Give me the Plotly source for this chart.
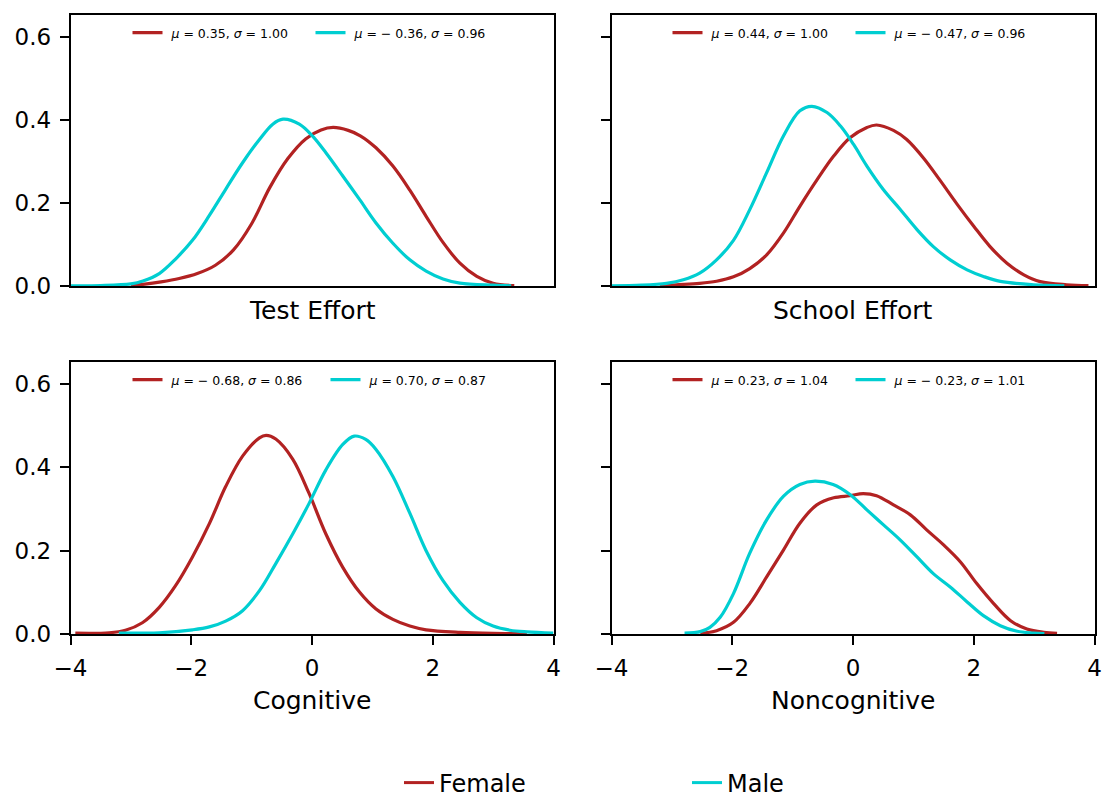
import plotly.graph_objects as go

RED = "#B22222"
CYAN = "#00CED1"
FONT = "DejaVu Sans"

panel_titles = ["Test Effort", "School Effort", "Cognitive", "Noncognitive"]
female_labels = ["\u00a0<i>μ</i> = 0.35, <i>σ</i> = 1.00", "\u00a0<i>μ</i> = 0.44, <i>σ</i> = 1.00",
                 "\u00a0<i>μ</i> = − 0.68, <i>σ</i> = 0.86", "\u00a0<i>μ</i> = 0.23, <i>σ</i> = 1.04"]
male_labels = ["\u00a0<i>μ</i> = − 0.36, <i>σ</i> = 0.96", "\u00a0<i>μ</i> = − 0.47, <i>σ</i> = 0.96",
               "\u00a0<i>μ</i> = 0.70, <i>σ</i> = 0.87", "\u00a0<i>μ</i> = − 0.23, <i>σ</i> = 1.01"]
x_ticks = [-4, -2, 0, 2, 4]
y_ticks = [0.0, 0.2, 0.4, 0.6]
y_tick_text = ["0.0", "0.2", "0.4", "0.6"]

# Test Effort
test_female_x = [-3.0, -2.8, -2.5, -2.2, -1.9, -1.6, -1.3, -1.0, -0.70, -0.40, -0.10, 0.15, 0.35,
                 0.60, 0.80, 1.06, 1.34, 1.62, 1.89, 2.17, 2.45, 2.73, 3.0, 3.35]
test_female_y = [0.001, 0.004, 0.010, 0.018, 0.030, 0.050, 0.087, 0.150, 0.237, 0.307, 0.355, 0.376, 0.382,
                 0.375, 0.362, 0.333, 0.289, 0.231, 0.168, 0.105, 0.055, 0.023, 0.0065, 0.001]
test_male_x = [-4.0, -3.5, -3.0, -2.8, -2.53, -2.26, -1.98, -1.70, -1.43, -1.15, -0.87, -0.65, -0.48, -0.21,
               0.01, 0.23, 0.51, 0.79, 1.06, 1.34, 1.62, 1.89, 2.17, 2.45, 3.0, 3.3]
test_male_y = [0.0005, 0.001, 0.005, 0.012, 0.030, 0.065, 0.110, 0.170, 0.233, 0.297, 0.353, 0.390, 0.402,
               0.390, 0.361, 0.321, 0.265, 0.208, 0.152, 0.103, 0.063, 0.036, 0.017, 0.007, 0.002, 0.0005]

# School Effort
school_female_x = [-3.2, -2.54, -2.26, -1.98, -1.71, -1.43, -1.15, -0.88, -0.60, -0.32, -0.05, 0.23, 0.39,
                   0.67, 0.89, 1.17, 1.44, 1.72, 2.00, 2.27, 2.55, 2.83, 3.10, 3.54, 3.9]
school_female_y = [0.001, 0.0065, 0.0115, 0.022, 0.042, 0.075, 0.128, 0.192, 0.255, 0.313, 0.357, 0.382, 0.388,
                   0.375, 0.353, 0.308, 0.255, 0.198, 0.144, 0.095, 0.055, 0.027, 0.0105, 0.003, 0.001]
school_male_x = [-4.0, -3.5, -3.09, -2.81, -2.54, -2.26, -1.98, -1.71, -1.43, -1.15, -0.88, -0.68, -0.43, -0.21,
                 0.01, 0.23, 0.505, 0.78, 1.06, 1.33, 1.61, 1.89, 2.16, 2.44, 2.99, 3.5]
school_male_y = [0.0005, 0.002, 0.0065, 0.015, 0.031, 0.063, 0.110, 0.184, 0.273, 0.362, 0.422, 0.433, 0.418, 0.386,
                 0.341, 0.289, 0.232, 0.185, 0.136, 0.095, 0.063, 0.039, 0.023, 0.011, 0.003, 0.0005]

# Cognitive
cog_female_x = [-3.92, -3.36, -3.09, -2.81, -2.53, -2.26, -1.98, -1.70, -1.43, -1.15, -0.87, -0.76, -0.60,
                -0.32, -0.05, 0.23, 0.51, 0.79, 1.06, 1.34, 1.62, 1.89, 2.45, 3.0, 3.56]
cog_female_y = [0.002, 0.003, 0.009, 0.027, 0.064, 0.116, 0.185, 0.265, 0.354, 0.427, 0.471, 0.477, 0.468,
                0.420, 0.338, 0.240, 0.160, 0.100, 0.060, 0.035, 0.019, 0.010, 0.004, 0.0016, 0.001]
cog_male_x = [-3.20, -2.53, -1.98, -1.70, -1.43, -1.15, -0.87, -0.60, -0.32, -0.05, 0.23, 0.51, 0.70, 0.89,
              1.06, 1.34, 1.62, 1.89, 2.17, 2.45, 2.73, 3.0, 3.28, 3.56, 4.0]
cog_male_y = [0.002, 0.003, 0.010, 0.017, 0.031, 0.056, 0.104, 0.169, 0.240, 0.313, 0.394, 0.455, 0.475, 0.467,
              0.443, 0.378, 0.290, 0.200, 0.128, 0.076, 0.039, 0.019, 0.009, 0.005, 0.002]

# Noncognitive
noncog_female_x = [-2.53, -2.26, -1.98, -1.71, -1.43, -1.15, -0.88, -0.60, -0.32, -0.05, 0.17, 0.39, 0.67,
                   0.95, 1.22, 1.50, 1.78, 2.05, 2.33, 2.61, 2.88, 3.16, 3.38]
noncog_female_y = [0.0016, 0.008, 0.028, 0.073, 0.137, 0.202, 0.266, 0.310, 0.327, 0.332, 0.337, 0.332, 0.310,
                   0.286, 0.250, 0.214, 0.173, 0.121, 0.073, 0.032, 0.012, 0.004, 0.0016]
noncog_male_x = [-2.79, -2.53, -2.37, -2.20, -1.98, -1.71, -1.43, -1.15, -0.88, -0.63, -0.33, -0.05, 0.23, 0.505,
                 0.78, 1.06, 1.33, 1.61, 1.89, 2.16, 2.44, 2.72, 2.99, 3.17]
noncog_male_y = [0.0024, 0.0056, 0.016, 0.040, 0.097, 0.194, 0.274, 0.331, 0.359, 0.367, 0.359, 0.335, 0.298, 0.262,
                 0.226, 0.185, 0.145, 0.113, 0.077, 0.044, 0.020, 0.0065, 0.0024, 0.001]

female_x = [test_female_x, school_female_x, cog_female_x, noncog_female_x]
female_y = [test_female_y, school_female_y, cog_female_y, noncog_female_y]
male_x = [test_male_x, school_male_x, cog_male_x, noncog_male_x]
male_y = [test_male_y, school_male_y, cog_male_y, noncog_male_y]

W, H = 1106, 798
# pixel geometry of the panels (left, right, top, bottom)
col_px = [(70.5, 553.5), (611.5, 1094.5)]
row_px = [(15, 286), (362, 634)]
legend_left_px = [127.5, 667.5]
legend_entry_px = [[138, 138], [153, 138]]

fig = go.Figure()
layout = dict(width=W, height=H, margin=dict(l=0, r=0, t=0, b=0, autoexpand=False),
              paper_bgcolor="white", plot_bgcolor="white",
              font=dict(family=FONT, color="black", size=22))
annotations = []
for i in range(4):
    r, c = divmod(i, 2)
    sfx = "" if i == 0 else str(i + 1)
    xa, ya = "x" + sfx, "y" + sfx
    leg = "legend" + str(i + 2)
    fig.add_trace(go.Scatter(x=female_x[i], y=female_y[i], mode="lines", name=female_labels[i],
                             line=dict(color=RED, width=3.2, shape="spline", smoothing=1.0),
                             xaxis=xa, yaxis=ya, legend=leg))
    fig.add_trace(go.Scatter(x=male_x[i], y=male_y[i], mode="lines", name=male_labels[i],
                             line=dict(color=CYAN, width=3.2, shape="spline", smoothing=1.0),
                             xaxis=xa, yaxis=ya, legend=leg))
    x0, x1 = col_px[c]
    y0, y1 = row_px[r]
    axis_common = dict(showline=True, mirror=True, linecolor="black", linewidth=1.6,
                       showgrid=False, zeroline=False, tickcolor="black", tickwidth=1.6,
                       automargin=False)
    layout["xaxis" + sfx] = dict(axis_common, domain=[x0 / W, x1 / W], range=[-4, 4],
                                 anchor=ya, tickvals=x_ticks,
                                 ticks="outside" if r == 1 else "", ticklen=9,
                                 showticklabels=(r == 1), tickfont=dict(size=23),
                                 ticklabelstandoff=4)
    layout["yaxis" + sfx] = dict(axis_common, domain=[1 - y1 / H, 1 - y0 / H], range=[0, 0.653],
                                 anchor=xa, tickvals=y_ticks, ticktext=y_tick_text,
                                 ticks="outside", ticklen=9,
                                 showticklabels=(c == 0), tickfont=dict(size=23),
                                 ticklabelstandoff=4)
    layout[leg] = dict(orientation="h", x=legend_left_px[c] / W, xanchor="left",
                       y=1 - (y0 + 18) / H, yanchor="middle", bgcolor="rgba(0,0,0,0)",
                       font=dict(size=12.5, family=FONT), entrywidth=legend_entry_px[r][c],
                       entrywidthmode="pixels", tracegroupgap=0)
    title_y = y1 + 24 if r == 0 else y1 + 66
    annotations.append(dict(text=panel_titles[i], xref="paper", yref="paper",
                            x=(x0 + x1) / 2 / W, y=1 - title_y / H, xanchor="center", yanchor="middle",
                            showarrow=False, font=dict(size=25, family=FONT)))

# figure-level legend (Female / Male)
fig.add_trace(go.Scatter(x=[None], y=[None], mode="lines", name="Female",
                         line=dict(color=RED, width=3), legend="legend"))
fig.add_trace(go.Scatter(x=[None], y=[None], mode="lines", name="Male",
                         line=dict(color=CYAN, width=3), legend="legend"))
layout["legend"] = dict(orientation="h", x=399 / W, xanchor="left", y=1 - 783 / H, yanchor="middle",
                        bgcolor="rgba(0,0,0,0)", font=dict(size=24, family=FONT),
                        entrywidth=243, entrywidthmode="pixels")
layout["annotations"] = annotations
layout["showlegend"] = True
fig.update_layout(**layout)
fig.write_html("out.html")
